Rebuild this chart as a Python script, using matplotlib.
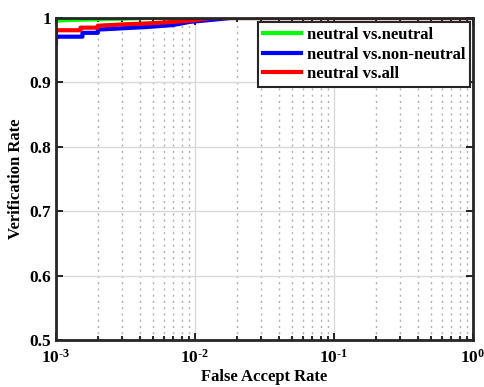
import numpy as np
import matplotlib
matplotlib.use('Agg')
from matplotlib import pyplot as plt
from matplotlib.ticker import LogLocator, NullFormatter

plt.rcParams['font.family'] = ['Liberation Serif', 'DejaVu Serif']
plt.rcParams['font.weight'] = 'bold'
plt.rcParams['mathtext.fontset'] = 'custom'
plt.rcParams['mathtext.rm'] = 'Liberation Serif:bold'
plt.rcParams['mathtext.default'] = 'rm'
plt.rcParams['axes.unicode_minus'] = False

# ROC curves
far_neutral = [1e-3, 1.3e-3, 2e-3, 3e-3, 4.7e-3, 1.0]
vr_neutral = [0.996, 0.997, 0.998, 0.999, 1.0, 1.0]

far_nonneutral = [1e-3, 1.0e-3, 1.55e-3, 1.55e-3, 2e-3, 2e-3, 3e-3, 4.5e-3,
                  6.9e-3, 9.2e-3, 1.3e-2, 1.8e-2, 1.0]
vr_nonneutral = [0.970, 0.971, 0.971, 0.977, 0.977, 0.982, 0.984, 0.986,
                 0.989, 0.994, 0.997, 1.0, 1.0]

far_all = [1e-3, 1.0e-3, 1.5e-3, 1.5e-3, 2e-3, 2e-3, 3e-3, 5e-3, 7e-3,
           9.5e-3, 1.3e-2, 1.0]
vr_all = [0.961, 0.981, 0.981, 0.985, 0.985, 0.988, 0.990, 0.992, 0.994,
          0.996, 1.0, 1.0]

labels = ['neutral vs.neutral', 'neutral vs.non-neutral', 'neutral vs.all']
xticks = [1e-3, 1e-2, 1e-1, 1]
xtick_labels = [r'$10^{\text{-}3}$', r'$10^{\text{-}2}$', r'$10^{\text{-}1}$',
                r'$10^{0}$']

fig = plt.figure(figsize=(4.85, 3.87), dpi=100)
ax = fig.add_axes([56 / 485, 1 - 340 / 387, 417 / 485, 322 / 387])

ax.plot(far_neutral, vr_neutral, color='#00ff00', lw=3, label=labels[0])
ax.plot(far_nonneutral, vr_nonneutral, color='#0000ff', lw=3, label=labels[1])
ax.plot(far_all, vr_all, color='#ff0000', lw=3, label=labels[2])

ax.set_xscale('log')
ax.set_xlim(1e-3, 1)
ax.set_ylim(0.5, 1.0)
ax.set_xticks(xticks)
ax.set_xticklabels(xtick_labels)
ax.set_yticks([0.5, 0.6, 0.7, 0.8, 0.9, 1.0])
ax.set_yticklabels(['0.5', '0.6', '0.7', '0.8', '0.9', '1'])
ax.xaxis.set_minor_locator(LogLocator(base=10, subs=np.arange(2, 10)))
ax.xaxis.set_minor_formatter(NullFormatter())

ax.grid(True, which='major', color='#d9d9d9', lw=1, ls='-')
ax.grid(True, which='minor', axis='x', color='#b0b0b0', lw=1, ls=(0, (1.5, 3)))
ax.set_axisbelow(True)

ax.tick_params(which='both', direction='in', top=True, right=True,
               labelsize=12.5, width=1.2)
ax.tick_params(which='major', length=5)
ax.tick_params(which='minor', length=3)
ax.tick_params(axis='x', pad=6)
for s in ax.spines.values():
    s.set_linewidth(2)
    s.set_color('#262626')

ax.set_xlabel('False Accept Rate', fontsize=12, fontweight='bold', labelpad=2)
ax.set_ylabel('Verification Rate', fontsize=12, fontweight='bold', labelpad=4)

leg = ax.legend(loc='upper right', bbox_to_anchor=(0.994, 0.988), fontsize=12,
                fancybox=False, framealpha=1, edgecolor='#262626',
                handlelength=2.3, handletextpad=0.35, borderpad=0.3,
                labelspacing=0.22, borderaxespad=0)
leg.get_frame().set_linewidth(1.5)
for t in leg.get_texts():
    t.set_fontweight('bold')

fig.savefig('out.png', dpi=100)
